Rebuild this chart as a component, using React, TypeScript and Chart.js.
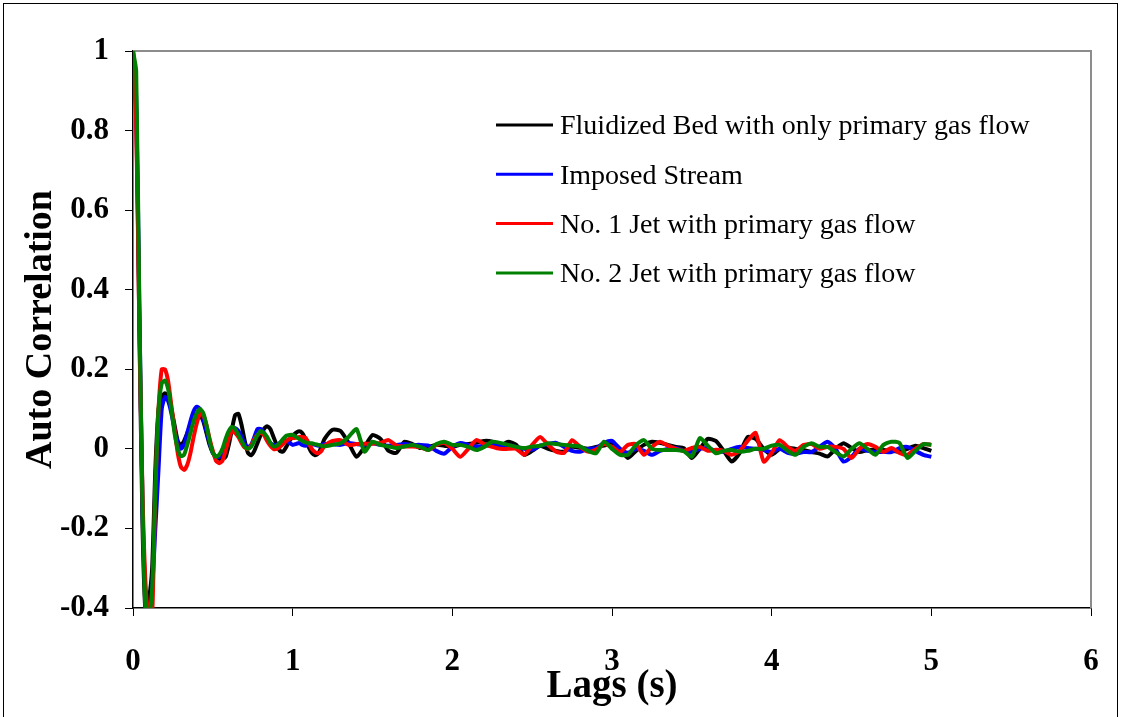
import React, { useEffect, useRef } from "react";
import { Chart, registerables } from "chart.js";

Chart.register(...registerables);

// Lag times (s)
const lags = [
  0, 0.02, 0.04, 0.06, 0.08, 0.1, 0.12, 0.14, 0.16, 0.18,
  0.2, 0.22, 0.24, 0.26, 0.28, 0.3, 0.32, 0.34, 0.36, 0.38,
  0.4, 0.42, 0.44, 0.46, 0.48, 0.5, 0.52, 0.54, 0.56, 0.58,
  0.6, 0.62, 0.64, 0.66, 0.68, 0.7, 0.72, 0.74, 0.76, 0.78,
  0.8, 0.82, 0.84, 0.86, 0.88, 0.9, 0.92, 0.94, 0.96, 0.98,
  1, 1.02, 1.04, 1.06, 1.08, 1.1, 1.12, 1.14, 1.16, 1.18,
  1.2, 1.25, 1.3, 1.35, 1.4, 1.45, 1.5, 1.55, 1.6, 1.65,
  1.7, 1.75, 1.8, 1.85, 1.9, 1.95, 2, 2.05, 2.1, 2.15,
  2.2, 2.25, 2.3, 2.35, 2.4, 2.45, 2.5, 2.55, 2.6, 2.65,
  2.7, 2.75, 2.8, 2.85, 2.9, 2.95, 3, 3.05, 3.1, 3.15,
  3.2, 3.25, 3.3, 3.35, 3.4, 3.45, 3.5, 3.55, 3.6, 3.65,
  3.7, 3.75, 3.8, 3.85, 3.9, 3.95, 4, 4.05, 4.1, 4.15,
  4.2, 4.25, 4.3, 4.35, 4.4, 4.45, 4.5, 4.55, 4.6, 4.65,
  4.7, 4.75, 4.8, 4.85, 4.9, 4.95, 5,
];

// Fluidized Bed with only primary gas flow (black)
const fluidizedBed = [
  1, 0.85, 0.3, -0.2, -0.42, -0.38, -0.3, -0.05, 0.1, 0.13,
  0.14, 0.13, 0.1, 0.06, 0.02, 0.008, 0.02, 0.04, 0.06, 0.08,
  0.088, 0.085, 0.07, 0.04, 0.01, -0.01, -0.02, -0.025, -0.025, -0.02,
  0.01, 0.05, 0.085, 0.088, 0.06, 0.02, -0.01, -0.016, -0.005, 0.015,
  0.035, 0.05, 0.057, 0.05, 0.03, 0.01, -0.005, -0.007, 0.005, 0.02,
  0.032, 0.04, 0.044, 0.04, 0.025, 0.005, -0.01, -0.016, -0.012, 0.005,
  0.025, 0.048, 0.045, 0.015, -0.02, 0.005, 0.035, 0.025, -0.005, -0.01,
  0.018, 0.012, 0.002, 0.005, 0.01, 0.008, 0.005, 0.01, 0.012, 0.015,
  0.02, 0.018, 0.008, 0.018, 0.01, -0.015, -0.005, 0.008, 0, -0.005,
  -0.007, 0.005, 0.003, 0, 0.005, 0.008, 0.015, 0, -0.023, -0.005,
  0.01, 0.018, 0.015, 0.01, 0.005, 0.002, -0.023, 0, 0.025, 0.02,
  -0.005, -0.032, -0.01, 0.03, 0.025, 0, -0.015, 0, 0.003, 0,
  -0.003, -0.008, -0.012, -0.019, 0, 0.014, 0.002, -0.008, -0.003, -0.002,
  -0.003, -0.005, -0.007, 0, 0.008, 0.002, -0.005,
];

// Imposed Stream (blue)
const imposedStream = [
  1, 0.88, 0.35, -0.15, -0.38, -0.42, -0.35, -0.2, -0.05, 0.1,
  0.13, 0.12, 0.09, 0.05, 0.015, 0, 0.01, 0.04, 0.07, 0.095,
  0.106, 0.1, 0.075, 0.045, 0.015, -0.01, -0.02, -0.02, -0.01, 0.01,
  0.035, 0.05, 0.052, 0.045, 0.03, 0.012, 0.005, 0.01, 0.03, 0.05,
  0.05, 0.04, 0.025, 0.015, 0.01, 0.01, 0.015, 0.02, 0.02, 0.015,
  0.01, 0.012, 0.015, 0.01, 0.008, 0.01, 0.012, 0.01, 0.008, 0.01,
  0.012, 0.012, 0.01, 0.015, 0.012, 0.01, 0.014, 0.01, 0.008, 0.01,
  0.012, 0.01, 0.01, 0.008, -0.005, -0.012, 0.005, 0.015, 0.01, 0.006,
  0.008, 0.01, 0.01, 0.009, 0.005, 0, -0.002, 0.008, 0.012, 0.015,
  0.005, -0.005, -0.007, 0, 0.002, 0.015, 0.02, 0, -0.01, 0,
  -0.005, -0.015, -0.005, 0, 0.002, -0.005, -0.007, 0, 0.002, -0.005,
  -0.007, 0, 0.005, 0.002, 0, -0.003, -0.008, 0, -0.01, -0.012,
  -0.008, -0.008, 0.005, 0.018, 0, -0.032, -0.02, 0, -0.005, -0.008,
  -0.008, -0.008, 0.002, 0.005, -0.005, -0.015, -0.02,
];

// No. 1 Jet with primary gas flow (red)
const jet1 = [
  1, 0.82, 0.3, -0.12, -0.35, -0.42, -0.42, -0.1, 0.1, 0.2,
  0.2, 0.17, 0.11, 0.05, -0.01, -0.045, -0.053, -0.04, -0.01, 0.03,
  0.065, 0.088, 0.085, 0.06, 0.025, -0.005, -0.03, -0.036, -0.03, -0.005,
  0.025, 0.045, 0.04, 0.03, 0.015, 0.003, 0, 0.008, 0.025, 0.035,
  0.04, 0.035, 0.02, 0.008, 0, 0, 0.005, 0.012, 0.02, 0.025,
  0.027, 0.028, 0.03, 0.03, 0.028, 0.015, 0, -0.008, -0.011, -0.005,
  0.008, 0.02, 0.022, 0.01, 0.012, 0.013, 0.013, 0.015, 0.022, 0.008,
  0.006, 0.006, 0.004, -0.003, 0.01, 0.015, 0, -0.02, 0, 0.022,
  0.012, 0.005, 0, 0, 0, -0.015, 0.01, 0.03, 0.01, -0.007,
  -0.01, 0.022, 0.005, -0.007, -0.002, 0.012, 0.005, -0.008, 0.01, 0.012,
  -0.015, 0.005, 0.018, 0.008, 0, -0.005, 0.002, 0.005, -0.005, -0.002,
  -0.005, -0.015, -0.005, 0.02, 0.04, -0.032, -0.01, 0.022, 0.005, -0.005,
  0.01, 0.012, 0, 0.005, 0.005, 0, -0.023, 0, 0.012, 0.005,
  -0.008, 0.002, -0.01, -0.015, 0, 0.012, 0.01,
];

// No. 2 Jet with primary gas flow (green)
const jet2 = [
  1, 0.95, 0.35, -0.15, -0.42, -0.42, -0.35, -0.1, 0.1, 0.165,
  0.172, 0.15, 0.1, 0.04, 0, -0.018, -0.015, 0.01, 0.04, 0.07,
  0.09, 0.1, 0.09, 0.06, 0.02, -0.01, -0.02, -0.015, 0, 0.025,
  0.045, 0.055, 0.05, 0.035, 0.02, 0.005, 0, 0.005, 0.02, 0.035,
  0.045, 0.04, 0.03, 0.015, 0.006, 0.008, 0.015, 0.025, 0.033, 0.035,
  0.035, 0.03, 0.025, 0.02, 0.016, 0.014, 0.014, 0.012, 0.01, 0.008,
  0.006, 0.01, 0.014, 0.03, 0.05, -0.007, 0.018, 0.01, 0.006, 0.002,
  0.006, 0.01, 0.005, -0.003, 0.012, 0.018, 0.01, 0.01, 0.005, -0.003,
  0.005, 0.018, 0.015, 0.01, 0.005, 0.002, 0.006, 0.008, 0.014, 0.012,
  0.01, 0.008, 0.006, -0.005, -0.011, 0.018, 0, -0.015, -0.015, 0.01,
  0.022, 0, -0.003, -0.003, -0.003, -0.006, -0.02, 0.027, 0.008, -0.011,
  -0.005, -0.003, -0.007, -0.005, 0, 0, 0.008, 0.01, -0.005, -0.015,
  0.005, 0.014, 0.005, 0.005, -0.008, -0.019, 0, 0.014, 0, -0.015,
  0.01, 0.018, 0.015, -0.023, -0.005, 0.012, 0.01,
];

const seriesNames = [
  "Fluidized Bed with only primary gas flow",
  "Imposed Stream",
  "No. 1 Jet with primary gas flow",
  "No. 2 Jet with primary gas flow",
];
const seriesColors = ["#000000", "#0000FF", "#FF0000", "#008000"];
const seriesValues = [fluidizedBed, imposedStream, jet1, jet2];

const xTicks = [0, 1, 2, 3, 4, 5, 6];
const yTicks = [-0.4, -0.2, 0, 0.2, 0.4, 0.6, 0.8, 1];

const FONT = "'Liberation Serif', 'Times New Roman', serif";

const framePlugin = {
  id: "frame",
  beforeDraw(chart: any) {
    const { ctx, width, height } = chart;
    ctx.save();
    ctx.fillStyle = "#ffffff";
    ctx.fillRect(0, 0, width, height);
    ctx.strokeStyle = "#000000";
    ctx.lineWidth = 1;
    ctx.strokeRect(3.5, 3.5, width - 7, height + 10);
    ctx.restore();
  },
  beforeDatasetsDraw(chart: any) {
    const { ctx, chartArea } = chart;
    ctx.save();
    ctx.strokeStyle = "#8c8c8c";
    ctx.lineWidth = 2;
    ctx.beginPath();
    ctx.moveTo(chartArea.left, chartArea.top);
    ctx.lineTo(chartArea.right, chartArea.top);
    ctx.lineTo(chartArea.right, chartArea.bottom);
    ctx.stroke();
    ctx.restore();
  },
};

const legendPlugin = {
  id: "insideLegend",
  afterDatasetsDraw(chart: any) {
    const { ctx, chartArea } = chart;
    ctx.save();
    ctx.font = `28px ${FONT}`;
    ctx.textBaseline = "middle";
    ctx.textAlign = "left";
    const x0 = chartArea.left + 363;
    chart.data.datasets.forEach((ds: any, i: number) => {
      const y = chartArea.top + 74 + i * 49.3;
      ctx.strokeStyle = ds.borderColor;
      ctx.lineWidth = 3;
      ctx.beginPath();
      ctx.moveTo(x0, y);
      ctx.lineTo(x0 + 57, y);
      ctx.stroke();
      ctx.fillStyle = "#000000";
      ctx.fillText(ds.label, x0 + 64, y + 2);
    });
    ctx.restore();
  },
};

export default function App() {
  const canvasRef = useRef<HTMLCanvasElement | null>(null);

  useEffect(() => {
    const canvas = canvasRef.current;
    if (!canvas) return;
    const datasets = seriesNames.map((name, i) => ({
      label: name,
      data: lags.map((t, k) => ({ x: t, y: seriesValues[i][k] })),
      borderColor: seriesColors[i],
      backgroundColor: seriesColors[i],
      borderWidth: 4,
      pointRadius: 0,
      tension: 0.2,
      fill: false,
      order: 3 - i,
    }));

    const chart = new Chart(canvas, {
      type: "line",
      data: { datasets },
      plugins: [framePlugin, legendPlugin],
      options: {
        animation: false,
        responsive: false,
        maintainAspectRatio: false,
        layout: { padding: { top: 51, right: 30, bottom: 0, left: 0 } },
        plugins: {
          legend: { display: false },
          tooltip: { enabled: false },
        },
        scales: {
          x: {
            type: "linear",
            min: 0,
            max: 6,
            afterBuildTicks: (scale: any) => {
              scale.ticks = xTicks.map((v) => ({ value: v }));
            },
            afterFit: (scale: any) => {
              scale.height = 109;
            },
            ticks: {
              color: "#000000",
              font: { family: FONT, size: 31, weight: "bold", lineHeight: 1.65 },
              padding: 20,
              maxRotation: 0,
              autoSkip: false,
            },
            grid: {
              drawOnChartArea: false,
              drawTicks: true,
              tickLength: 8,
              color: "#000000",
            },
            border: { color: "#000000", width: 1.5 },
            title: {
              display: true,
              text: "Lags (s)",
              color: "#000000",
              font: { family: FONT, size: 39, weight: "bold" },
              padding: { top: 0, bottom: 7 },
            },
          },
          y: {
            type: "linear",
            min: -0.4,
            max: 1,
            afterBuildTicks: (scale: any) => {
              scale.ticks = yTicks.map((v) => ({ value: v }));
            },
            afterFit: (scale: any) => {
              scale.width = 133;
            },
            ticks: {
              color: "#000000",
              font: { family: FONT, size: 31, weight: "bold" },
              padding: 16,
              autoSkip: false,
              callback: (v: any) => String(Number(Number(v).toFixed(1))),
            },
            grid: {
              drawOnChartArea: false,
              drawTicks: true,
              tickLength: 8,
              color: "#000000",
            },
            border: { color: "#000000", width: 1.5 },
            title: {
              display: true,
              text: "Auto Correlation",
              color: "#000000",
              font: { family: FONT, size: 38, weight: "bold" },
              padding: { top: 18, bottom: 0 },
            },
          },
        },
      },
    } as any);

    return () => chart.destroy();
  }, []);

  return (
    <div
      style={{
        position: "fixed",
        left: 0,
        top: 0,
        width: 1121,
        height: 717,
        background: "#ffffff",
      }}
    >
      <canvas ref={canvasRef} width={1121} height={717} style={{ display: "block" }} />
    </div>
  );
}
